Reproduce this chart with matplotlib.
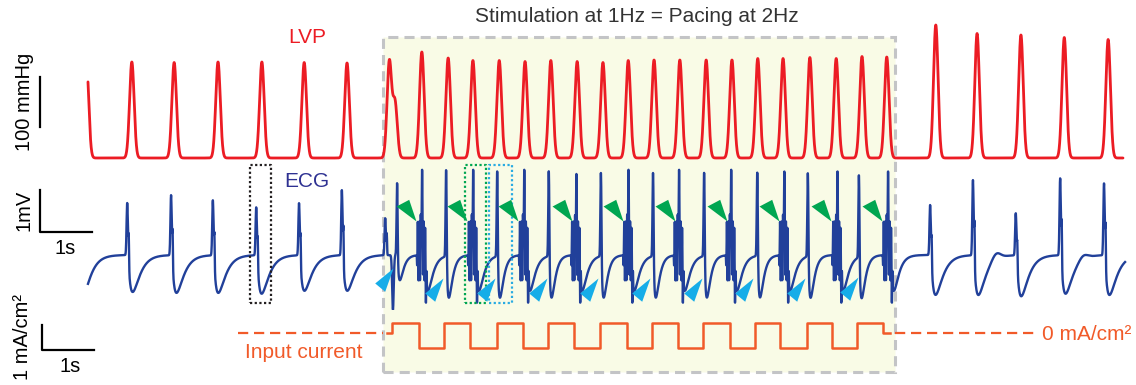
import numpy as np
import matplotlib.pyplot as plt
from matplotlib.path import Path
from matplotlib.patches import Rectangle

plt.rcParams['font.family'] = ['Liberation Sans', 'DejaVu Sans']

W, H = 1136, 385          # figure size in pixels
T_LO, T_HI = -1.705, 20.31  # visible time window (s)

# ---- LVP: systolic peaks (s, mmHg above diastolic baseline)
lvp_t = [-0.03, 0.85, 1.67, 2.52, 3.37, 4.19, 5.02,
         5.84, 5.95, 6.47, 6.98, 7.46, 7.97, 8.47, 8.97, 9.48, 9.98, 10.47,
         10.97, 11.47, 11.98, 12.48, 12.98, 13.47, 13.99, 14.50, 15.00, 15.48,
         16.43, 17.23, 18.08, 18.92, 19.77]
lvp_p = [192, 192, 191, 192, 192, 191, 190,
         192, 110, 212, 200, 195, 195, 193, 195, 193, 191, 195,
         196, 196, 196, 196, 199, 199, 201, 199, 203, 202,
         266, 249, 246, 241, 237]
lvp_end = 20.06

# ---- ECG (mV)
# spontaneous beats before stimulation
pre_t = [-0.20, 0.76, 1.61, 2.42, 3.26, 4.09, 4.92, 5.76]
pre_r = [1.20, 1.24, 1.43, 1.31, 1.14, 1.24, 1.55, 0.88]
pre_s = [0.95, 0.88, 0.90, 0.90, 0.92, 0.85, 0.85, 0.0]
# stimulus artefact at onset
art_t = [5.91]
art_a = [-1.30]
# paced beats on rising edges (tall spike)
pa_t = [5.99, 6.94, 7.93, 8.93, 9.94, 10.95, 11.94, 12.97, 13.95, 14.94]
pa_r = [1.71, 2.05, 2.02, 2.02, 1.98, 1.98, 1.98, 1.98, 1.98, 1.95]
pa_s = [0.60, 1.00, 1.00, 1.00, 1.00, 1.00, 1.00, 1.00, 1.00, 1.00]
# paced beats on falling edges (fused complex)
pb_t = [6.47, 7.46, 8.45, 9.46, 10.47, 11.45, 12.46, 13.49, 14.52, 15.50]
pb_r = [1.60, 1.60, 1.60, 1.48, 1.60, 1.60, 1.60, 1.55, 1.55, 1.55]
# spontaneous beats after stimulation
post_t = [16.32, 17.15, 17.98, 18.84, 19.69]
post_r = [1.19, 1.79, 1.00, 1.83, 1.71]
post_s = [0.95, 0.95, 0.98, 0.92, 0.95]
post_tw = [0.0, 0.15, 0.0, 0.10, 0.0]
ecg_end = 20.10

# ---- input current (mA/cm2)
cur_edges = [5.89, 6.41, 6.90, 7.40, 7.93, 8.43, 8.91, 9.42, 9.92, 10.45,
             10.93, 11.43, 11.92, 12.44, 12.93, 13.41, 13.93, 14.42, 14.90, 15.41]
cur_hi, cur_lo = 0.4, -0.6
cur_on, cur_off = 5.79, 15.54
zero_left = [2.91, 5.72]
zero_right = [15.64, 18.39]

stim_window = [5.72, 15.64]

# arrowheads on the ECG
green_t = [6.36, 7.34, 8.33, 9.38, 10.37, 11.38, 12.38, 13.39, 14.40, 15.39]
green_v = [0.80] * 10
blue_t = [5.91, 6.88, 7.89, 8.90, 9.88, 10.89, 11.90, 12.89, 13.90, 14.92]
blue_v = [-0.31, -0.55, -0.55, -0.55, -0.55, -0.55, -0.55, -0.55, -0.55, -0.53]

# dotted selection boxes (t0, t1)
sel_black = [3.14, 3.55]
sel_green = [7.31, 7.71]
sel_blue = [7.77, 8.22]
sel_v = [-1.15, 2.15]

RED = '#ec1c24'
NAVY = '#21409a'
ORANGE = '#f15a29'
GREEN = '#00a651'
CYAN = '#16ade8'
GREY = '#c3c4c6'
INK = '#231f20'


def gauss(t, t0, a, w):
    return a * np.exp(-0.5 * ((t - t0) / w) ** 2)


def dip(t, t0, depth, ta, tb):
    s = np.clip(t - t0, 0, None)
    sp = np.log(tb / ta) * ta * tb / (tb - ta)
    gmax = np.exp(-sp / tb) - np.exp(-sp / ta)
    return -depth * (np.exp(-s / tb) - np.exp(-s / ta)) / gmax


# build LVP trace
tl = np.arange(0, lvp_end, 0.002)
lvp = np.zeros_like(tl)
for t0, p in zip(lvp_t, lvp_p):
    lvp += gauss(tl, t0, p, 0.044)

# build ECG trace
te = np.arange(0, ecg_end, 0.002)
ecg = np.zeros_like(te)
for t0, r, s in zip(pre_t, pre_r, pre_s):
    ecg += gauss(te, t0, r, 0.012) + gauss(te, t0 + 0.03, 0.55 * r, 0.006)
    ecg += dip(te, t0 + 0.02, s, 0.06, 0.13)
for t0, a in zip(art_t, art_a):
    ecg += gauss(te, t0, a, 0.015)
for t0, r, s in zip(pa_t, pa_r, pa_s):
    ecg += gauss(te, t0, r, 0.01) + dip(te, t0 + 0.01, s, 0.03, 0.07)
for t0, r in zip(pb_t, pb_r):
    s = te - t0
    env = np.clip((s + 0.1) / 0.02, 0, 1) * np.clip((0.1 - s) / 0.02, 0, 1)
    ecg += env * (0.1 + 0.7 * np.sin(2 * np.pi * 35 * s))
    ecg += gauss(te, t0, r - 0.1, 0.01)
    ecg += dip(te, t0 + 0.06, 0.85, 0.04, 0.09)
for t0, r, s, tw in zip(post_t, post_r, post_s, post_tw):
    ecg += gauss(te, t0, r, 0.012) + gauss(te, t0 + 0.03, 0.55 * r, 0.006)
    ecg += dip(te, t0 + 0.02, s, 0.06, 0.13)
    ecg += gauss(te, t0 + 0.45, tw, 0.08)

# input current as a step trace
cur_x = [cur_on] + cur_edges + [cur_off]
cur_y = [0] + [cur_hi, cur_lo] * 9 + [cur_hi, 0, 0]


def band(y_top, y_bot):
    # axes rectangle spanning the full width between two pixel rows
    return [0, 1 - y_bot / H, 1, (y_bot - y_top) / H]


fig = plt.figure(figsize=(W / 100, H / 100), dpi=100)

bg = fig.add_axes([0, 0, 1, 1])
bg.set_xlim(T_LO, T_HI)
bg.set_ylim(0, 1)
bg.axis('off')
bg.add_patch(Rectangle((stim_window[0], 1 - 372 / H), stim_window[1] - stim_window[0],
                       (372 - 37) / H, facecolor='#f9fbe6', edgecolor=GREY,
                       lw=2.2, ls=(0, (3.3, 2.0)), zorder=0))

ax_lvp = fig.add_axes(band(20, 170))
ax_ecg = fig.add_axes(band(160, 310))
ax_cur = fig.add_axes(band(310, 360))
for ax in (ax_lvp, ax_ecg, ax_cur):
    ax.set_xlim(T_LO, T_HI)
    ax.axis('off')
ax_lvp.set_ylim(-24, 276)
ax_ecg.set_ylim(-1.31, 2.262)
ax_cur.set_ylim(-1.08, 0.92)

ax_lvp.plot(tl, lvp, color=RED, lw=2.0, solid_capstyle='round')
ax_ecg.plot(te, ecg, color=NAVY, lw=1.7)
ax_cur.step(cur_x, cur_y, where='post', color=ORANGE, lw=1.8)
ax_cur.plot(zero_left, [0, 0], color=ORANGE, lw=1.6, dashes=(4.6, 2.6))
ax_cur.plot(zero_right, [0, 0], color=ORANGE, lw=1.6, dashes=(4.6, 2.6))

# arrowheads, tip at the data point
blue_tri = Path([(0, 0), (-18.3, -15), (-8.3, -23.3), (0, 0)], closed=True)
green_tri = Path([(0, 0), (-20, 15), (-7.3, 21.7), (0, 0)], closed=True)
ax_ecg.plot(green_t, green_v, ls='none', marker=green_tri, ms=31.2, mew=0, color=GREEN,
            clip_on=False, zorder=5)
ax_ecg.plot(blue_t, blue_v, ls='none', marker=blue_tri, ms=33.5, mew=0, color=CYAN,
            clip_on=False, zorder=5)

# dotted boxes around single complexes
for (x0, x1), c in ((sel_black, INK), (sel_green, GREEN), (sel_blue, '#29abe2')):
    ax_ecg.plot([x0, x1, x1, x0, x0], [sel_v[0], sel_v[0], sel_v[1], sel_v[1], sel_v[0]],
                color=c, lw=1.6, ls=(0, (1, 1.1)), clip_on=False, zorder=4)

# scale bars
bar_x = -0.93
ax_lvp.plot([bar_x, bar_x], [62, 62 + 100], color='k', lw=1.6, clip_on=False)
ax_ecg.plot([bar_x, bar_x, bar_x + 1], [0.55 + 1, 0.55, 0.55], color='k', lw=1.6,
            clip_on=False)
ax_cur.plot([-0.89, -0.89, -0.89 + 1], [-0.68 + 1, -0.68, -0.68], color='k', lw=1.6,
            clip_on=False)


def label(x, y, s, **kw):
    fig.text(x / W, 1 - y / H, s, **kw)


fs = 15
label(637, 22, 'Stimulation at 1Hz = Pacing at 2Hz', ha='center', va='baseline',
      fontsize=fs, color='#333333')
label(307, 43, 'LVP', ha='center', va='baseline', fontsize=fs, color=RED)
label(307, 187, 'ECG', ha='center', va='baseline', fontsize=fs, color='#2e3192')
label(24, 102, '100 mmHg', ha='center', va='center', rotation=90, fontsize=14.5)
label(24, 210, '1mV', ha='center', va='center', rotation=90, fontsize=14.5)
label(23, 337, '1 mA/cm²', ha='center', va='center', rotation=90, fontsize=14.5)
label(65, 249, '1s', ha='center', va='center', fontsize=14.5)
label(70, 366, '1s', ha='center', va='center', fontsize=14.5)
label(304, 352, 'Input current', ha='center', va='center', fontsize=fs, color=ORANGE)
label(1042, 335, '0 mA/cm²', ha='left', va='center', fontsize=fs, color=ORANGE)

fig.savefig('out.png', dpi=100)
